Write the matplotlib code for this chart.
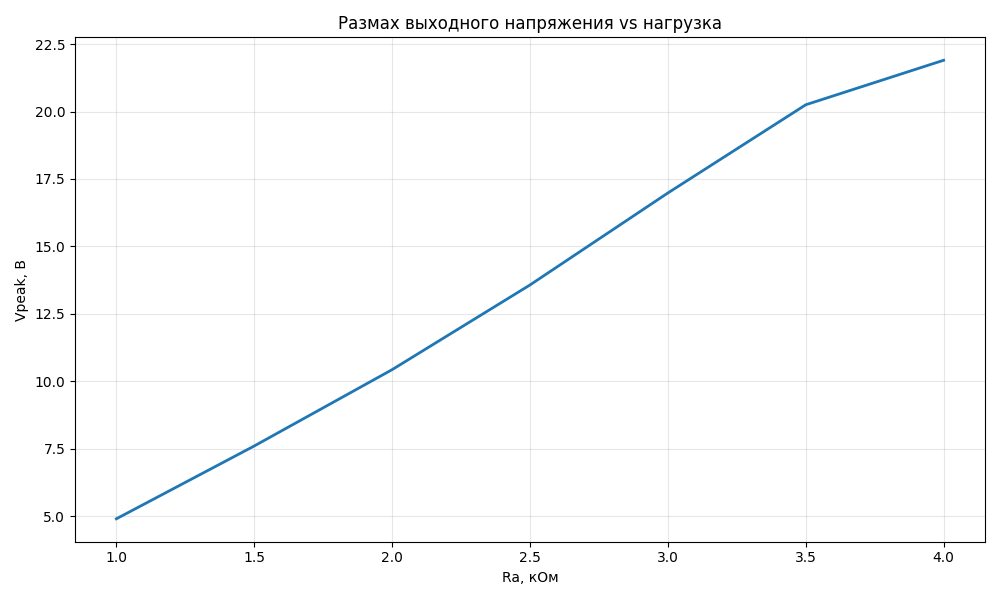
import matplotlib.pyplot as plt

# Данные: сопротивление нагрузки и амплитуда
ra_kohm = [1.0, 1.5, 2.0, 2.5, 3.0, 3.5, 4.0]
vpeak = [4.9, 7.6, 10.43, 13.57, 16.98, 20.25, 21.9]

fig, ax = plt.subplots(figsize=(10, 6), dpi=100)
ax.plot(ra_kohm, vpeak, color="#1f77b4", linewidth=2)

ax.set_title("Размах выходного напряжения vs нагрузка", fontsize=12)
ax.set_xlabel("Ra, кОм")
ax.set_ylabel("Vpeak, В")
ax.grid(True, alpha=0.3)

fig.tight_layout()
fig.savefig("out.png")
